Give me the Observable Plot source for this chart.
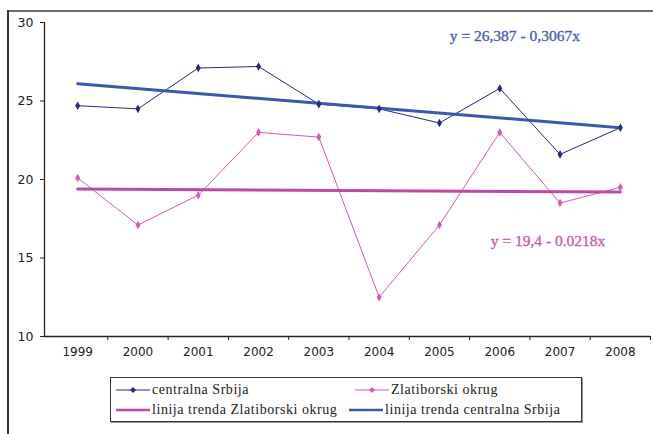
<!DOCTYPE html>
<html><head><meta charset="utf-8">
<script src="https://cdn.jsdelivr.net/npm/d3@7"></script>
<script src="https://cdn.jsdelivr.net/npm/@observablehq/plot@0.6"></script>
<style>
body{margin:0;background:#fff;width:653px;height:434px;overflow:hidden;position:relative}
#frameTop{position:absolute;left:7px;top:10px;width:646px;height:2px;background:#6a6a6a}
#frameLeft{position:absolute;left:7px;top:10px;width:1.5px;height:424px;background:#333}
#chart{position:absolute;left:0;top:0}
#legend{position:absolute;left:110px;top:377px;width:470px;height:43px;border:1px solid #333;box-shadow:1px 1px 0 #999;font-family:"Liberation Serif","Times New Roman",serif;font-size:14px;color:#222;letter-spacing:0.55px;background:#fff}
.item{position:absolute;display:flex;align-items:center;white-space:nowrap;height:16px}
.item svg{margin-right:2px}
</style></head><body>
<div id="frameTop"></div><div id="frameLeft"></div>
<div id="chart"></div>
<div id="legend"></div>
<script>
const years = [1999, 2000, 2001, 2002, 2003, 2004, 2005, 2006, 2007, 2008];
const centralna = [24.7, 24.5, 27.1, 27.2, 24.8, 24.5, 23.6, 25.8, 21.6, 23.3];
const zlatiborski = [20.1, 17.1, 19.0, 23.0, 22.7, 12.5, 17.1, 23.0, 18.5, 19.5];
const trendYears = [1999, 2008];
const trendCentralna = [26.1, 23.3];
const trendZlatiborski = [19.4, 19.2];
const yTicks = [10, 15, 20, 25, 30];
const seriesNames = ["centralna Srbija", "Zlatiborski okrug", "linija trenda Zlatiborski okrug", "linija trenda centralna Srbija"];
const equations = [
  {text: "y = 26,387 - 0,3067x", year: 2006.25, value: 29.15, color: "#4a5fb0"},
  {text: "y = 19,4 - 0.0218x", year: 2006.8, value: 16.05, color: "#c35cb0"}
];

const cNavy = "#28287c", cPink = "#cf5cb6", cTrendBlue = "#3b58ae", cTrendPink = "#bb4aa2";

const serC = years.map((y, i) => ({year: y, v: centralna[i]}));
const serZ = years.map((y, i) => ({year: y, v: zlatiborski[i]}));
const trC = trendYears.map((y, i) => ({year: y, v: trendCentralna[i]}));
const trZ = trendYears.map((y, i) => ({year: y, v: trendZlatiborski[i]}));
const bounds = years.map(y => y + 0.5);

const plot = Plot.plot({
  width: 653, height: 368,
  marginLeft: 44, marginRight: 3, marginTop: 22, marginBottom: 32,
  style: {fontFamily: "DejaVu Sans", background: "transparent", overflow: "visible"},
  x: {domain: [1998.45, 2008.5], label: null},
  y: {domain: [10, 30], label: null},
  marks: [
    Plot.axisY({ticks: yTicks, tickSize: 4, tickPadding: 7, fontSize: 12.5, color: "#222", stroke: "#222", label: null}),
    Plot.axisX({ticks: years, tickSize: 0, tickPadding: 11, fontSize: 12, tickFormat: d => String(d), color: "#222", label: null}),
    Plot.axisX({ticks: bounds, tickSize: 4, tickFormat: () => "", stroke: "#222", label: null}),
    Plot.ruleX([1998.45], {stroke: "#222", strokeWidth: 1.3}),
    Plot.ruleY([10], {stroke: "#222", strokeWidth: 1.3}),
    Plot.line(serZ, {x: "year", y: "v", stroke: cPink, strokeWidth: 1}),
    Plot.line(serC, {x: "year", y: "v", stroke: cNavy, strokeWidth: 1}),
    Plot.line(trZ, {x: "year", y: "v", stroke: cTrendPink, strokeWidth: 3}),
    Plot.line(trC, {x: "year", y: "v", stroke: cTrendBlue, strokeWidth: 3}),
    Plot.dot(serZ, {x: "year", y: "v", symbol: "diamond", r: 2.6, fill: cPink}),
    Plot.dot(serC, {x: "year", y: "v", symbol: "diamond", r: 2.6, fill: cNavy}),
    Plot.text(equations, {x: "year", y: "value", text: "text", fill: "color", stroke: "color", strokeWidth: 0.35, fontSize: 15.5, fontFamily: "Liberation Serif"})
  ]
});
document.getElementById("chart").appendChild(plot);

const legend = document.getElementById("legend");
const items = [
  {name: seriesNames[0], color: cNavy, w: 1, marker: true, left: 5, top: 4},
  {name: seriesNames[1], color: cPink, w: 1, marker: true, left: 244, top: 4},
  {name: seriesNames[2], color: cTrendPink, w: 2.5, marker: false, left: 5, top: 24},
  {name: seriesNames[3], color: cTrendBlue, w: 2.5, marker: false, left: 238, top: 24}
];
for (const it of items) {
  const d = document.createElement("div");
  d.className = "item";
  d.style.left = it.left + "px"; d.style.top = it.top + "px";
  const sw = 34;
  d.innerHTML = `<svg width="${sw}" height="10"><line x1="0" x2="${sw}" y1="5" y2="5" stroke="${it.color}" stroke-width="${it.w}"/>` +
    (it.marker ? `<path d="M${sw/2},2L${sw/2+3},5L${sw/2},8L${sw/2-3},5Z" fill="${it.color}"/>` : "") +
    `</svg><span>${it.name}</span>`;
  legend.appendChild(d);
}
</script>
</body></html>
